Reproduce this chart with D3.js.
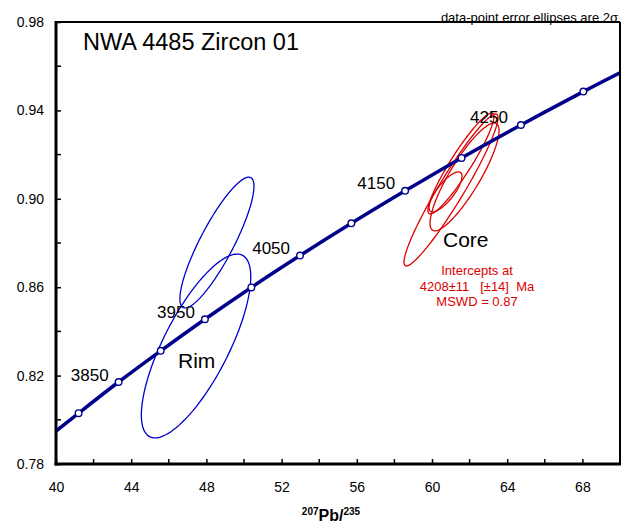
<!DOCTYPE html>
<html>
  <head>
    <meta charset="utf-8" />
    <script src="https://d3js.org/d3.v7.min.js"></script>
    <style>
      body { margin: 0; background: #ffffff; }
      text { font-family: "Liberation Sans", Arial, sans-serif; }
      .frame { stroke: #000000; fill: none; }
      .concordia { stroke: #00008b; stroke-width: 3.5; fill: none; }
      .marker { stroke: #00008b; stroke-width: 1.4; fill: #ffffff; }
      .rim { stroke: #0000cc; stroke-width: 1.3; fill: none; }
      .core { stroke: #dd0000; stroke-width: 1.3; fill: none; }
    </style>
  </head>
  <body>
    <div id="chart"></div>
    <script type="text/javascript">

      var w = 624, h = 523;
      var margin = { left: 56, right: 4, top: 22, bottom: 59 };

      // concordia points (207Pb/235U, 206Pb/238U), every 50 Ma, plus the edges
      var concAge = [3771, 3800, 3850, 3900, 3950, 4000, 4050, 4100, 4150, 4200, 4250, 4300, 4328];
      var concX = [40.00, 41.20, 43.33, 45.57, 47.92, 50.39, 52.98, 55.71, 58.57, 61.57, 64.73, 68.05, 70.00];
      var concY = [0.7949, 0.8030, 0.8171, 0.8312, 0.8455, 0.8599, 0.8743, 0.8889, 0.9036, 0.9185, 0.9334, 0.9485, 0.9570];
      var markerAges = [3800, 3850, 3900, 3950, 4000, 4050, 4100, 4150, 4200, 4250, 4300];
      var labelAges = [3850, 3950, 4050, 4150, 4250];

      // error ellipses: centre, half extent in x and y, correlation
      var rimX = [48.56, 47.45];
      var rimDx = [1.97, 2.91];
      var rimY = [0.8802, 0.8334];
      var rimDy = [0.0296, 0.0416];
      var rimRho = [0.86, 0.75];

      var coreX = [61.01, 61.73, 60.72, 61.54];
      var coreDx = [2.50, 1.835, 0.878, 1.755];
      var coreY = [0.9040, 0.9099, 0.9031, 0.9160];
      var coreDy = [0.0344, 0.0244, 0.00905, 0.02285];
      var coreRho = [0.95, 0.86, 0.78, 0.93];

      var xTicks = [40, 44, 48, 52, 56, 60, 64, 68];
      var xMinor = [42, 46, 50, 54, 58, 62, 66];
      var yTicks = [0.78, 0.82, 0.86, 0.90, 0.94, 0.98];
      var yMinor = [0.80, 0.84, 0.88, 0.92, 0.96];

      var x = d3.scaleLinear().domain([40, 70]).range([margin.left, w - margin.right]);
      var y = d3.scaleLinear().domain([0.78, 0.98]).range([h - margin.bottom, margin.top]);

      var svg = d3.select("#chart").append("svg")
        .attr("width", w).attr("height", h);

      svg.append("clipPath").attr("id", "plot")
        .append("rect")
        .attr("x", x(40)).attr("y", y(0.98))
        .attr("width", x(70) - x(40)).attr("height", y(0.78) - y(0.98));

      var plot = svg.append("g").attr("clip-path", "url(#plot)");

      // ellipse outline from centre, extents and correlation
      function ellipse(cx, dx, cy, dy, rho) {
        var pts = [];
        for (var i = 0; i <= 120; i++) {
          var t = i / 120 * 2 * Math.PI;
          pts.push([x(cx + dx * Math.cos(t)),
                    y(cy + dy * (rho * Math.cos(t) + Math.sqrt(1 - rho * rho) * Math.sin(t)))]);
        }
        return d3.line()(pts) + "Z";
      }

      rimX.forEach(function(d, i) {
        plot.append("path").attr("class", "rim")
          .attr("d", ellipse(rimX[i], rimDx[i], rimY[i], rimDy[i], rimRho[i]));
      });
      coreX.forEach(function(d, i) {
        plot.append("path").attr("class", "core")
          .attr("d", ellipse(coreX[i], coreDx[i], coreY[i], coreDy[i], coreRho[i]));
      });

      // concordia
      var line = d3.line().curve(d3.curveCatmullRom)
        .x(function(d, i) { return x(concX[i]); })
        .y(function(d, i) { return y(concY[i]); });
      plot.append("path").datum(concAge).attr("class", "concordia").attr("d", line);

      plot.selectAll("circle.marker").data(markerAges).enter().append("circle")
        .attr("class", "marker").attr("r", 3.3)
        .attr("cx", function(d) { return x(concX[concAge.indexOf(d)]); })
        .attr("cy", function(d) { return y(concY[concAge.indexOf(d)]); });

      // age labels sit just left of their marker
      svg.selectAll("text.age").data(labelAges).enter().append("text")
        .attr("class", "age")
        .attr("x", function(d) { return x(concX[concAge.indexOf(d)]) - (d == 4250 ? 13 : 10); })
        .attr("y", function(d) { return y(concY[concAge.indexOf(d)]) - 1.5; })
        .attr("text-anchor", "end")
        .style("font-size", "17px")
        .text(function(d) { return d; });

      // axes: ticks pointing inward
      var xAxis = svg.append("g").attr("transform", "translate(0," + y(0.78) + ")")
        .call(d3.axisBottom(x).tickValues(xTicks).tickSizeInner(-5).tickSizeOuter(0).tickPadding(18));
      xAxis.append("g").selectAll("line").data(xMinor).enter().append("line")
        .attr("x1", function(d) { return x(d); }).attr("x2", function(d) { return x(d); })
        .attr("y1", 0).attr("y2", -5).attr("stroke", "#000").attr("stroke-width", 1.5);

      var yAxis = svg.append("g").attr("transform", "translate(" + x(40) + ",0)")
        .call(d3.axisLeft(y).tickValues(yTicks).tickFormat(d3.format(".2f"))
          .tickSizeInner(-5).tickSizeOuter(0).tickPadding(12));
      yAxis.append("g").selectAll("line").data(yMinor).enter().append("line")
        .attr("y1", function(d) { return y(d); }).attr("y2", function(d) { return y(d); })
        .attr("x1", 0).attr("x2", 5).attr("stroke", "#000").attr("stroke-width", 1.5);

      svg.selectAll(".tick line").attr("stroke-width", 1.5);
      svg.selectAll(".tick text").style("font-size", "14px").style("font-family", "Liberation Sans, Arial, sans-serif");
      svg.selectAll(".domain").remove();

      // frame
      svg.append("line").attr("class", "frame").attr("stroke-width", 2)
        .attr("x1", x(40)).attr("x2", x(70)).attr("y1", y(0.98)).attr("y2", y(0.98));
      svg.append("line").attr("class", "frame").attr("stroke-width", 2)
        .attr("x1", x(70)).attr("x2", x(70)).attr("y1", y(0.98)).attr("y2", y(0.78));
      svg.append("line").attr("class", "frame").attr("stroke-width", 3)
        .attr("x1", x(40)).attr("x2", x(40)).attr("y1", y(0.98) - 1).attr("y2", y(0.78) + 1.5);
      svg.append("line").attr("class", "frame").attr("stroke-width", 3)
        .attr("x1", x(40) - 1.5).attr("x2", x(70) + 1).attr("y1", y(0.78)).attr("y2", y(0.78));

      // texts
      svg.append("text").attr("x", 83).attr("y", 50).style("font-size", "23.5px")
        .text("NWA 4485 Zircon 01");

      svg.append("text").attr("x", 618).attr("y", 22).attr("text-anchor", "end")
        .style("font-size", "13px").text("data-point error ellipses are 2σ");

      svg.append("text").attr("x", 178).attr("y", 368).style("font-size", "21px").text("Rim");
      svg.append("text").attr("x", 443).attr("y", 247).style("font-size", "21px").text("Core");

      var intercept = svg.append("text").attr("text-anchor", "middle")
        .style("font-size", "13px").attr("fill", "#dd0000");
      ["Intercepts at", "4208±11   [±14]  Ma", "MSWD = 0.87"].forEach(function(s, i) {
        intercept.append("tspan").attr("x", 477).attr("y", 275 + i * 15.5)
          .attr("xml:space", "preserve").text(s);
      });

      var title = svg.append("text").attr("x", 331).attr("y", 521)
        .attr("text-anchor", "middle").style("font-weight", "bold").style("font-size", "16px");
      title.append("tspan").style("font-size", "10px").attr("dy", "-6").text("207");
      title.append("tspan").attr("dy", "6").text("Pb/");
      title.append("tspan").style("font-size", "10px").attr("dy", "-6").text("235");

    </script>
  </body>
</html>
